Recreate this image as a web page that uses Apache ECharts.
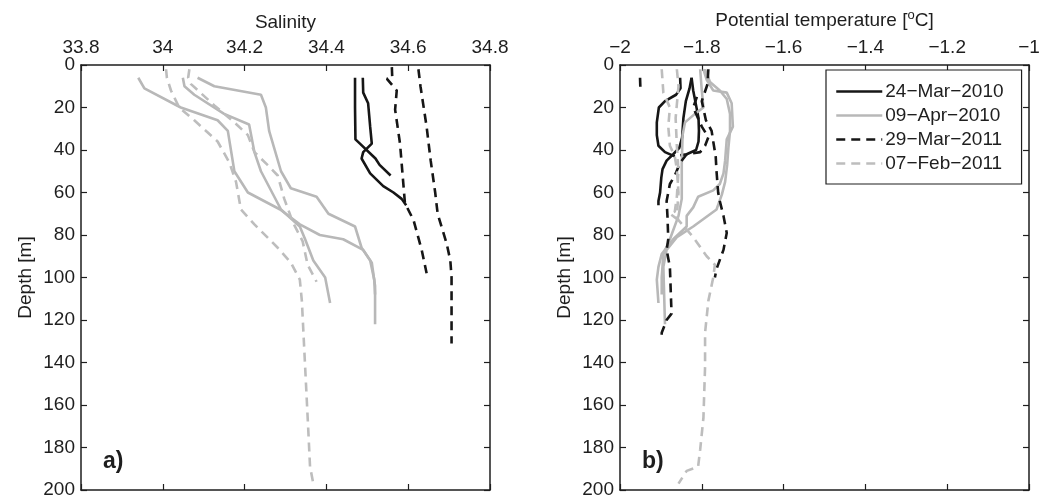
<!DOCTYPE html>
<html>
<head>
<meta charset="utf-8">
<script src="https://cdn.jsdelivr.net/npm/echarts@6/dist/echarts.min.js"></script>
<style>
  html, body { margin: 0; padding: 0; background: #fff; }
  #chart { width: 1041px; height: 500px; }
</style>
</head>
<body>
<div id="chart"></div>
<script>
// legend labels (MATLAB renders '-' as a minus sign)
const dates = ['24\u2212Mar\u22122010', '09\u2212Apr\u22122010', '29\u2212Mar\u22122011', '07\u2212Feb\u22122011']

// salinity profiles, [salinity, depth m]
const salMar2010a = [[34.470, 6], [34.470, 20], [34.471, 35], [34.482, 37], [34.520, 44], [34.530, 47], [34.557, 52]]
const salMar2010b = [[34.489, 6], [34.490, 13], [34.502, 18], [34.507, 29], [34.511, 37], [34.490, 41], [34.486, 44], [34.507, 51], [34.539, 57], [34.564, 60], [34.584, 63], [34.595, 66]]
const salApr2010a = [[33.940, 6], [33.955, 11], [34.044, 20], [34.134, 26], [34.159, 31], [34.175, 50], [34.208, 60], [34.287, 68], [34.335, 75], [34.384, 80], [34.441, 82], [34.490, 87], [34.511, 93], [34.519, 104], [34.519, 122]]
const salApr2010b = [[34.049, 6], [34.053, 10], [34.077, 14], [34.150, 23], [34.211, 28], [34.224, 41], [34.240, 50], [34.289, 68], [34.335, 76], [34.348, 82], [34.368, 92], [34.397, 100], [34.409, 112]]
const salApr2010c = [[34.085, 6], [34.126, 10], [34.240, 14], [34.252, 20], [34.260, 31], [34.289, 50], [34.313, 58], [34.376, 62], [34.405, 70], [34.470, 76], [34.486, 86], [34.507, 92], [34.517, 101], [34.519, 108]]
const salMar2011a = [[34.560, 1], [34.561, 6], [34.548, 6.5], [34.572, 12], [34.568, 21], [34.580, 37], [34.592, 65], [34.613, 73], [34.633, 87], [34.645, 98]]
const salMar2011b = [[34.625, 2], [34.630, 10], [34.645, 29], [34.655, 45], [34.666, 60], [34.672, 70], [34.694, 84], [34.703, 92], [34.706, 100], [34.706, 131]]
const salFeb2011a = [[34.008, 2], [34.010, 6], [34.020, 12], [34.040, 20], [34.077, 26], [34.134, 36], [34.163, 46], [34.179, 55], [34.191, 68], [34.224, 75], [34.281, 86], [34.313, 93], [34.335, 101], [34.340, 111], [34.348, 142], [34.356, 173], [34.360, 189], [34.368, 197]]
const salFeb2011b = [[34.065, 2], [34.062, 6], [34.069, 9], [34.126, 19], [34.175, 27], [34.208, 33], [34.224, 41], [34.256, 47], [34.281, 52], [34.297, 63], [34.318, 74], [34.342, 83], [34.354, 94], [34.376, 102]]

// potential temperature profiles, [deg C, depth m]
const tempMar2010a = [[-1.853, 6], [-1.852, 11], [-1.863, 14], [-1.890, 17], [-1.905, 20], [-1.910, 27], [-1.910, 33], [-1.906, 38], [-1.890, 41], [-1.866, 43]]
const tempMar2010b = [[-1.825, 6], [-1.830, 11], [-1.839, 17], [-1.845, 25], [-1.848, 34], [-1.855, 39], [-1.870, 42], [-1.886, 45], [-1.896, 49], [-1.899, 53], [-1.902, 60], [-1.906, 64], [-1.906, 66]]
const tempMar2010c = [[-1.825, 6], [-1.821, 12], [-1.814, 19], [-1.808, 25], [-1.807, 31], [-1.808, 36], [-1.814, 40], [-1.837, 42], [-1.853, 42.5]]
const tempApr2010a = [[-1.796, 2], [-1.788, 7], [-1.772, 12], [-1.739, 13], [-1.727, 18], [-1.724, 29], [-1.739, 35], [-1.743, 45], [-1.747, 51], [-1.756, 56], [-1.772, 59], [-1.809, 62], [-1.821, 67], [-1.837, 71], [-1.837, 76], [-1.870, 82], [-1.898, 89], [-1.906, 95], [-1.910, 101], [-1.906, 112]]
const tempApr2010b = [[-1.804, 2], [-1.800, 12], [-1.796, 20], [-1.817, 23], [-1.841, 27], [-1.847, 33], [-1.849, 47], [-1.849, 63], [-1.857, 71], [-1.878, 82], [-1.894, 89], [-1.898, 100], [-1.898, 108]]
const tempApr2010c = [[-1.792, 2], [-1.780, 8], [-1.756, 12], [-1.739, 16], [-1.731, 23], [-1.731, 31], [-1.735, 39], [-1.738, 47], [-1.743, 55], [-1.751, 61], [-1.764, 68], [-1.821, 76], [-1.861, 81], [-1.886, 87], [-1.894, 95], [-1.890, 122]]
const tempMar2011a = [[-1.784, 2], [-1.786, 9], [-1.800, 17], [-1.790, 26], [-1.776, 31], [-1.772, 36], [-1.766, 43], [-1.764, 50], [-1.760, 60], [-1.756, 64], [-1.747, 71], [-1.739, 79], [-1.747, 87], [-1.764, 96], [-1.768, 100]]
const tempMar2011b = [[-1.812, 15], [-1.821, 20], [-1.800, 29], [-1.784, 34], [-1.792, 38], [-1.804, 41], [-1.837, 42], [-1.853, 46], [-1.866, 52], [-1.878, 56], [-1.886, 64], [-1.884, 71], [-1.882, 82], [-1.886, 87], [-1.878, 95], [-1.874, 117], [-1.886, 120], [-1.898, 126], [-1.898, 129]]
const tempMar2011c = [[-1.951, 6], [-1.950, 12]]
const tempFeb2011a = [[-1.898, 2], [-1.894, 13], [-1.878, 20], [-1.882, 29], [-1.878, 38], [-1.866, 43], [-1.861, 49], [-1.857, 60], [-1.861, 71], [-1.857, 73], [-1.821, 81], [-1.788, 90], [-1.768, 94], [-1.772, 100], [-1.784, 111], [-1.792, 126], [-1.792, 142], [-1.796, 166], [-1.804, 181], [-1.809, 189], [-1.837, 191], [-1.857, 197]]
const tempFeb2011b = [[-1.861, 2], [-1.857, 10], [-1.864, 25], [-1.861, 38], [-1.857, 50], [-1.861, 62], [-1.866, 69], [-1.878, 70], [-1.857, 73]]

const salTicks = [33.8, 34.8, 0.2]
const tempTicks = [-2, -1, 0.2]
const depthTicks = [0, 200, 20]

const font = 'Liberation Sans, Arial, sans-serif'
const ink = '#1e1e1e'
const lineStyles = [
  { color: '#161616', type: 'solid' },
  { color: '#b8b8b8', type: 'solid' },
  { color: '#161616', type: [9, 6] },
  { color: '#bdbdbd', type: [9, 6] }
]

const profiles = [
  [0, 0, salMar2010a], [0, 0, salMar2010b],
  [1, 0, salApr2010a], [1, 0, salApr2010b], [1, 0, salApr2010c],
  [2, 0, salMar2011a], [2, 0, salMar2011b],
  [3, 0, salFeb2011a], [3, 0, salFeb2011b],
  [0, 1, tempMar2010a], [0, 1, tempMar2010b], [0, 1, tempMar2010c],
  [1, 1, tempApr2010a], [1, 1, tempApr2010b], [1, 1, tempApr2010c],
  [2, 1, tempMar2011a], [2, 1, tempMar2011b], [2, 1, tempMar2011c],
  [3, 1, tempFeb2011a], [3, 1, tempFeb2011b]
]

const minus = v => String(v).replace('-', '\u2212')

const fs = 19
const tickStyle = { show: true, inside: true, length: 6, lineStyle: { color: ink, width: 1.2 } }
const lineAxis = { show: true, onZero: false, lineStyle: { color: ink, width: 1.5 } }
const labelStyle = { color: ink, fontSize: fs, fontFamily: font }

const makeX = (grid, range, name, top, formatter) => ({
  type: 'value',
  gridIndex: grid,
  position: top ? 'top' : 'bottom',
  min: range[0], max: range[1], interval: range[2],
  name: top ? name : '',
  nameLocation: 'middle',
  nameGap: 33,
  nameTextStyle: { color: ink, fontSize: fs, fontFamily: font, rich: { sup: { fontSize: 13, fontFamily: font, color: ink, padding: [0, 0, 10, 0] } } },
  axisLine: lineAxis,
  axisTick: tickStyle,
  axisLabel: { show: top, margin: 8, formatter: formatter, ...labelStyle },
  splitLine: { show: false }
})

const makeY = (grid, left) => ({
  type: 'value',
  gridIndex: grid,
  position: left ? 'left' : 'right',
  inverse: true,
  min: depthTicks[0], max: depthTicks[1], interval: depthTicks[2],
  name: left ? 'Depth [m]' : '',
  nameLocation: 'middle',
  nameRotate: 90,
  nameGap: 46,
  nameTextStyle: { color: ink, fontSize: fs, fontFamily: font },
  axisLine: lineAxis,
  axisTick: tickStyle,
  axisLabel: { show: left, margin: 6, ...labelStyle },
  splitLine: { show: false }
})

const chart = echarts.init(document.getElementById('chart'), null, { renderer: 'canvas' })

chart.setOption({
  animation: false,
  backgroundColor: '#fff',
  grid: [
    { left: 81, top: 65, width: 409, height: 425, outerBoundsMode: 'none' },
    { left: 620, top: 65, width: 409, height: 425, outerBoundsMode: 'none' }
  ],
  xAxis: [
    makeX(0, salTicks, 'Salinity', true),
    makeX(0, salTicks, '', false),
    makeX(1, tempTicks, 'Potential temperature [{sup|o}C]', true, minus),
    makeX(1, tempTicks, '', false)
  ],
  yAxis: [makeY(0, true), makeY(0, false), makeY(1, true), makeY(1, false)],
  legend: {
    data: dates,
    orient: 'vertical',
    left: 826,
    top: 70,
    itemWidth: 46,
    itemHeight: 16,
    itemGap: 5,
    padding: [12, 18, 11, 9],
    borderColor: ink,
    borderWidth: 1.2,
    backgroundColor: '#fff',
    itemStyle: { color: 'transparent', borderWidth: 0 },
    lineStyle: { width: 2.5 },
    textStyle: { color: ink, fontSize: fs, fontFamily: font, padding: [0, 0, 0, -2] }
  },
  graphic: [
    { type: 'text', left: 103, top: 450, style: { text: 'a)', fontSize: 23, fontWeight: 'bold', fontFamily: font, fill: ink } },
    { type: 'text', left: 642, top: 450, style: { text: 'b)', fontSize: 23, fontWeight: 'bold', fontFamily: font, fill: ink } }
  ],
  series: profiles.map(([k, panel, data]) => ({
    name: dates[k],
    type: 'line',
    xAxisIndex: panel * 2,
    yAxisIndex: panel * 2,
    data: data,
    symbol: 'none',
    silent: true,
    lineStyle: { width: 2.6, ...lineStyles[k] },
    itemStyle: { color: lineStyles[k].color }
  }))
})
</script>
</body>
</html>
